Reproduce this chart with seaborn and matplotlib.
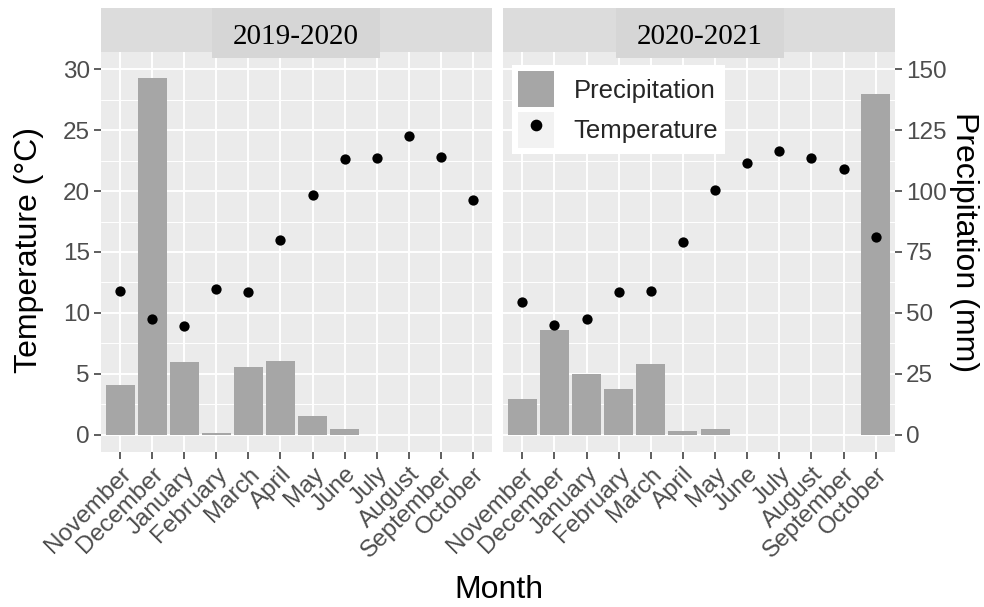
import numpy as np
import pandas as pd
import matplotlib
matplotlib.use("Agg")
import matplotlib.pyplot as plt
import seaborn as sns
from matplotlib.patches import Patch, Rectangle
from matplotlib.lines import Line2D
from matplotlib.legend_handler import HandlerTuple
from matplotlib.ticker import MultipleLocator

# ---------------- data ----------------
months = ["November", "December", "January", "February", "March", "April",
          "May", "June", "July", "August", "September", "October"]
seasons = ["2019-2020", "2020-2021"]

precip_2019 = [20.5, 146.5, 29.8, 0.7, 27.7, 30.2, 7.7, 2.3, 0, 0, 0, 0]
temp_2019 = [11.8, 9.5, 8.9, 12.0, 11.7, 16.0, 19.7, 22.6, 22.7, 24.5, 22.8, 19.3]
precip_2020 = [14.8, 43.0, 24.9, 18.7, 29.0, 1.6, 2.6, 0, 0, 0, 0, 139.8]
temp_2020 = [10.9, 9.0, 9.5, 11.7, 11.8, 15.8, 20.1, 22.3, 23.3, 22.7, 21.8, 16.2]

temp_ticks = [0, 5, 10, 15, 20, 25, 30]
precip_ticks = [0, 25, 50, 75, 100, 125, 150]
SCALE = 5.0  # 150 mm <-> 30 degC

# ---------------- style ----------------
sns.set_theme(style="white")
plt.rcParams["font.family"] = ["Liberation Sans", "DejaVu Sans"]

BAR = "#A6A6A6"
PANEL = "#EBEBEB"
STRIP = "#DCDCDC"
TICKC = "#333333"
LABC = "#4D4D4D"

W, H = 984, 607
fig = plt.figure(figsize=(W / 100, H / 100), dpi=100)

def fx(px):
    return px / W

def fy(py):
    return 1 - py / H

panel_top, panel_bot = 52, 452
panels = [(101, 492), (503, 895)]
label_boxes = [(212, 380), (616, 784)]

data = [(precip_2019, temp_2019), (precip_2020, temp_2020)]
axes = []
for i, ((x0, x1), (pr, tm)) in enumerate(zip(panels, data)):
    ax = fig.add_axes([fx(x0), fy(panel_bot), fx(x1) - fx(x0), fy(panel_top) - fy(panel_bot)])
    ax.set_facecolor(PANEL)
    df = pd.DataFrame({"Month": months, "Precipitation": pr, "Temperature": tm})
    df["PrecipScaled"] = df["Precipitation"] / SCALE
    sns.barplot(data=df, x="Month", y="PrecipScaled", order=months, color=BAR,
                saturation=1, width=0.9, edgecolor="none", linewidth=0, ax=ax, zorder=2)
    sns.stripplot(data=df, x="Month", y="Temperature", order=months, color="black",
                  jitter=False, size=7.4, linewidth=0, ax=ax, zorder=3)
    ax.set_xlim(-0.6, 11.6)
    ax.set_ylim(-1.4, 31.4)
    ax.set_yticks(temp_ticks)
    ax.yaxis.set_minor_locator(MultipleLocator(2.5))
    ax.grid(which="major", color="white", linewidth=1.4, zorder=0)
    ax.grid(which="minor", axis="y", color="white", linewidth=0.7, zorder=0)
    ax.set_axisbelow(True)
    for s in ax.spines.values():
        s.set_visible(False)
    ax.set_xlabel("")
    ax.set_ylabel("")
    ax.set_xticks(range(len(months)))
    ax.set_xticklabels(months, rotation=45, ha="right", rotation_mode="anchor")
    ax.tick_params(axis="x", which="major", length=5, width=1.1, color=TICKC,
                   labelcolor=LABC, labelsize=17.5, pad=3, bottom=True)
    ax.tick_params(axis="y", which="minor", length=0)
    if i == 0:
        ax.tick_params(axis="y", which="major", length=5, width=1.1, color=TICKC,
                       labelcolor=LABC, labelsize=17.5, pad=3, left=True)
    else:
        ax.tick_params(axis="y", which="major", left=False, labelleft=False)
        sec = ax.secondary_yaxis("right", functions=(lambda t: t * SCALE, lambda p: p / SCALE))
        sec.set_yticks(precip_ticks)
        for s in sec.spines.values():
            s.set_visible(False)
        sec.tick_params(axis="y", length=5, width=1.1, color=TICKC,
                        labelcolor=LABC, labelsize=17.5, pad=3)
    axes.append(ax)

    # strip
    fig.patches.append(Rectangle((fx(x0), fy(panel_top)), fx(x1) - fx(x0), fy(8) - fy(panel_top),
                                 transform=fig.transFigure, facecolor=STRIP, edgecolor="none", zorder=5))
    bx0, bx1 = label_boxes[i]
    fig.patches.append(Rectangle((fx(bx0), fy(58)), fx(bx1) - fx(bx0), fy(8) - fy(58),
                                 transform=fig.transFigure, facecolor="#D6D6D6", edgecolor="none", zorder=6))
    fig.text(fx((bx0 + bx1) / 2), fy(37), seasons[i], ha="center", va="center",
             fontsize=21, family=["Liberation Serif", "DejaVu Serif"], color="black", zorder=7)

# axis titles
fig.text(fx(29), fy(250), "Temperature (°C)", rotation=90, ha="center", va="center",
         fontsize=23, color="black")
fig.text(fx(964), fy(242), "Precipitation (mm)", rotation=270, ha="center", va="center",
         fontsize=23, color="black")
fig.text(fx(499), fy(590), "Month", ha="center", va="center", fontsize=23, color="black")

# legend
handles = [Patch(facecolor=BAR, edgecolor="none"),
           (Patch(facecolor="#F2F2F2", edgecolor="none"),
            Line2D([], [], marker="o", color="black", linestyle="none", markersize=7.4))]
leg = fig.legend(handles, ["Precipitation", "Temperature"], loc="upper left",
                 bbox_to_anchor=(fx(512), fy(65)), borderaxespad=0, borderpad=0.25,
                 handlelength=1.4, handleheight=1.78, handletextpad=0.75, labelspacing=0.16,
                 fontsize=18.5, frameon=True, fancybox=False,
                 handler_map={tuple: HandlerTuple(ndivide=1, pad=0)})
leg.get_frame().set_facecolor("white")
leg.get_frame().set_edgecolor("none")
leg.get_frame().set_alpha(1)
leg.set_zorder(10)

fig.savefig("out.png", dpi=100, facecolor="white")
